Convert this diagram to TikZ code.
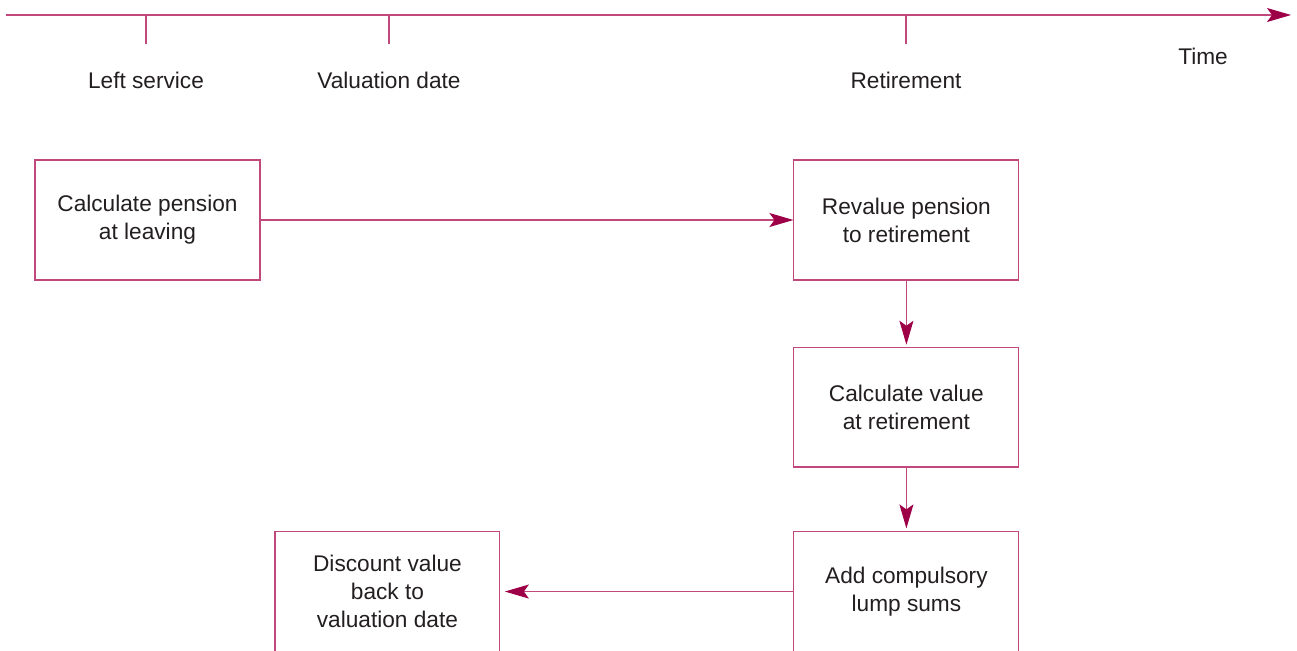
\documentclass[tikz,border=0pt]{standalone}
\usepackage{fontspec}
\setmainfont{Liberation Sans}
\usepackage{xcolor}
\usetikzlibrary{arrows.meta,positioning}
\definecolor{linepink}{RGB}{192,72,122}
\definecolor{tipred}{RGB}{158,0,72}
\definecolor{textgrey}{RGB}{35,31,32}
\tikzset{
    step-box/.style = {draw=linepink, fill=white, line width=0.6pt, rectangle, minimum width=4.5cm, minimum height=2.4cm, align=center, text=textgrey, font=\fontsize{12.9}{15.9}\selectfont},
    time-label/.style = {text=textgrey, font=\fontsize{12.9}{15.9}\selectfont},
    flow-arrow/.style = {draw=linepink, line width=0.6pt, -{Stealth[length=0.48cm, width=0.28cm, inset=0.1cm, color=tipred]}},
}

\begin{document}
\begin{tikzpicture}[x=0.02cm, y=-0.02cm]
\clip (0,0) rectangle (1297,650);
% time axis
\coordinate (axis-start) at (6,15);
\coordinate (axis-end) at (1291,15);
\draw[flow-arrow] (axis-start) -- (axis-end);
\node[time-label] (time) at (1203,56) {Time};
\foreach \x/\name/\lab in {146/left/Left service, 389/val/Valuation date, 906/ret/Retirement} {
    \coordinate (\name-tick) at (\x,15);
    \coordinate (\name-foot) at (\x,44);
    \draw[linepink, line width=0.6pt] (\name-tick) -- (\name-foot);
    \node[time-label] (\name-label) at (\x,80) {\lab};
}

% steps
\node[step-box] (calc-pension) at (147.5,220) {Calculate pension\\at leaving};
\node[step-box, right=10.66cm of calc-pension] (revalue) {Revalue pension\\to retirement};
\node[step-box, below=1.32cm of revalue] (calc-value) {Calculate value\\at retirement};
\node[step-box, below=1.27cm of calc-value] (lump-sums) {Add compulsory\\lump sums};
\node[step-box, left=5.86cm of lump-sums] (discount) {Discount value\\back to\\valuation date};

\draw[flow-arrow] (calc-pension) -- (revalue);
\draw[flow-arrow, shorten >=1pt] (revalue) -- (calc-value);
\draw[flow-arrow, shorten >=1.5pt] (calc-value) -- (lump-sums);
\draw[flow-arrow, shorten >=2.5pt] (lump-sums) -- (discount);
\end{tikzpicture}
\end{document}
